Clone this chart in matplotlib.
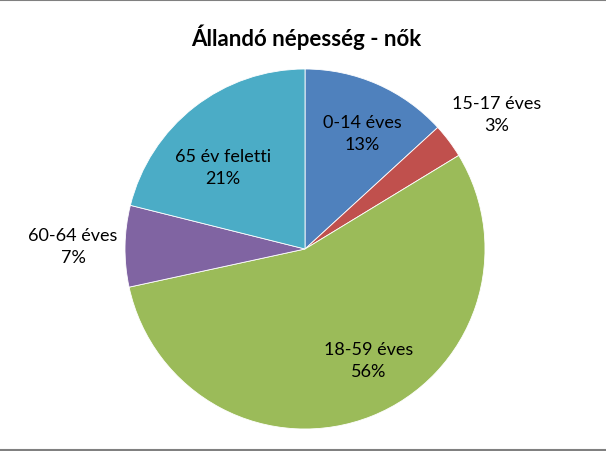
import matplotlib
matplotlib.use("Agg")
import matplotlib.pyplot as plt
from matplotlib.lines import Line2D

plt.rcParams['font.family'] = ['Lato', 'DejaVu Sans']

categories = ["0-14 éves", "15-17 éves", "18-59 éves", "60-64 éves", "65 év feletti"]
values = [13.2, 3.1, 55.3, 7.3, 21.1]
pct_labels = ["13%", "3%", "56%", "7%", "21%"]
colors = ["#4F81BD", "#C0504D", "#9BBB59", "#8064A2", "#4BACC6"]

W, H = 606, 452
# label positions in pixel coords from top-left (Excel layout)
label_pos = [(362, 134), (497, 115), (369, 361), (73, 247), (223, 168)]

fig = plt.figure(figsize=(W / 100, H / 100), dpi=100)
ax = fig.add_axes([0, 0, 1, 1])

ax.pie(values, colors=colors, startangle=90, counterclock=False,
       center=(305, H - 250), radius=180, frame=True,
       wedgeprops=dict(edgecolor="white", linewidth=0.6))
ax.set_xlim(0, W)
ax.set_ylim(0, H)
ax.set_aspect("auto")
ax.axis("off")

for (x, y), cat, pct in zip(label_pos, categories, pct_labels):
    ax.text(x, H - y, cat + "\n" + pct, ha="center", va="center",
            fontsize=13, color="black", linespacing=1.5)

ax.text(306, H - 37, "Állandó népesség - nők", ha="center", va="center",
        fontsize=16, fontweight="bold", color="black")

# chart border (top and bottom visible)
fig.add_artist(Line2D([0, 1], [1 - 1 / H, 1 - 1 / H], color="#808080", lw=1.5, transform=fig.transFigure))
fig.add_artist(Line2D([0, 1], [1.5 / H, 1.5 / H], color="#808080", lw=1.5, transform=fig.transFigure))

fig.savefig("out.png", dpi=100)
